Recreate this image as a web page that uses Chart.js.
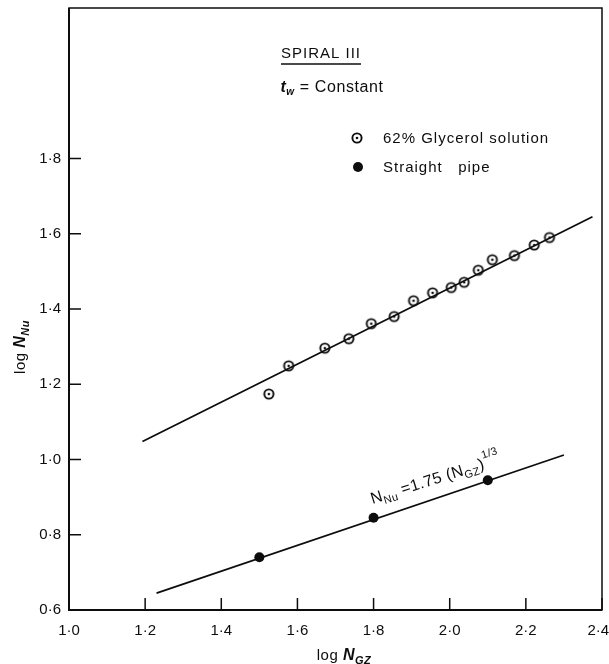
<!DOCTYPE html>
<html lang="en">
<head>
<meta charset="UTF-8">
<title>Spiral III</title>
<script src="https://cdn.jsdelivr.net/npm/chart.js"></script>
<style>
  html, body { margin: 0; padding: 0; background: #fff; }
  #wrap { width: 609px; height: 664px; }
</style>
</head>
<body>
<div id="wrap"><canvas id="chart"></canvas></div>
<script>
// values (log N_Gz, log N_Nu)
const glycerolX = [1.525, 1.577, 1.672, 1.735, 1.794, 1.854, 1.905, 1.955, 2.004, 2.038, 2.075, 2.112, 2.170, 2.222, 2.262];
const glycerolY = [1.174, 1.249, 1.296, 1.321, 1.361, 1.380, 1.422, 1.443, 1.457, 1.471, 1.503, 1.531, 1.542, 1.570, 1.590];
const pipeX = [1.50, 1.80, 2.10];
const pipeY = [0.740, 0.845, 0.945];
// drawn lines, end points
const spiralFitX = [1.193, 2.375];
const spiralFitY = [1.048, 1.645];
const pipeFitX = [1.23, 2.30];
const pipeFitY = [0.645, 1.012];
const xTicks = [1.0, 1.2, 1.4, 1.6, 1.8, 2.0, 2.2, 2.4];
const yTicks = [0.6, 0.8, 1.0, 1.2, 1.4, 1.6, 1.8];

const INK = '#0d0d0d';
const FONT = '"Liberation Sans", Arial, sans-serif';

const pts = (xs, ys) => xs.map((x, i) => ({ x: x, y: ys[i] }));
const fmt = v => v.toFixed(1).replace('.', '\u00b7');

// open circle with centre dot
function ringDot() {
  const c = document.createElement('canvas');
  c.width = c.height = 14;
  const g = c.getContext('2d');
  g.lineWidth = 1.9;
  g.strokeStyle = INK;
  g.fillStyle = '#fff';
  g.beginPath(); g.arc(7, 7, 4.6, 0, Math.PI * 2); g.fill(); g.stroke();
  g.fillStyle = INK;
  g.beginPath(); g.arc(7, 7, 1.3, 0, Math.PI * 2); g.fill();
  return c;
}
const ring = ringDot();

// draw a run of text pieces [text, size, dy, style]
function rich(ctx, parts, x, y, align) {
  let w = 0;
  parts.forEach(p => {
    ctx.font = (p[3] || '') + ' ' + p[1] + 'px ' + FONT;
    w += ctx.measureText(p[0]).width;
  });
  let cx = align === 'center' ? x - w / 2 : x;
  parts.forEach(p => {
    ctx.font = (p[3] || '') + ' ' + p[1] + 'px ' + FONT;
    ctx.fillText(p[0], cx, y + (p[2] || 0));
    cx += ctx.measureText(p[0]).width;
  });
  return w;
}

const decor = {
  id: 'decor',
  afterDraw(chart) {
    const ctx = chart.ctx;
    const a = chart.chartArea;
    const sx = chart.scales.x, sy = chart.scales.y;
    ctx.save();
    ctx.strokeStyle = INK;
    ctx.fillStyle = INK;

    // frame
    ctx.lineWidth = 1.5;
    ctx.strokeRect(a.left, a.top, a.right - a.left, a.bottom - a.top);
    ctx.lineWidth = 2;
    ctx.beginPath();
    ctx.moveTo(a.left, a.top); ctx.lineTo(a.left, a.bottom); ctx.lineTo(a.right, a.bottom);
    ctx.stroke();

    // inward ticks
    ctx.lineWidth = 1.5;
    ctx.beginPath();
    sx.ticks.forEach(t => {
      const px = sx.getPixelForValue(t.value);
      ctx.moveTo(px, a.bottom); ctx.lineTo(px, a.bottom - 12);
    });
    sy.ticks.forEach(t => {
      const py = sy.getPixelForValue(t.value);
      ctx.moveTo(a.left, py); ctx.lineTo(a.left + 12, py);
    });
    ctx.stroke();

    ctx.textBaseline = 'alphabetic';
    ctx.textAlign = 'left';

    // heading
    ctx.letterSpacing = '1px';
    const hw = rich(ctx, [['SPIRAL III', 15]], 321, 58, 'center');
    ctx.lineWidth = 1.4;
    ctx.beginPath(); ctx.moveTo(321 - hw / 2, 64); ctx.lineTo(321 + hw / 2, 64); ctx.stroke();
    ctx.letterSpacing = '0.6px';
    rich(ctx, [['t', 16, 0, 'italic bold'], ['w', 10, 3, 'italic bold'], [' = Constant', 16]], 332, 92, 'center');

    // legend
    ctx.drawImage(ring, 357 - 7, 138 - 7);
    ctx.beginPath(); ctx.arc(358, 167, 5, 0, Math.PI * 2); ctx.fill();
    ctx.letterSpacing = '1px';
    rich(ctx, [['62% Glycerol solution', 15]], 383, 143);
    rich(ctx, [['Straight   pipe', 15]], 383, 172);
    ctx.letterSpacing = '0px';

    // equation along the lower line
    ctx.save();
    ctx.translate(sx.getPixelForValue(1.797), sy.getPixelForValue(0.882));
    ctx.rotate(-17.5 * Math.PI / 180);
    ctx.letterSpacing = '0.4px';
    rich(ctx, [['N', 16], ['Nu', 11, 4], [' =1.75 (', 16], ['N', 16], ['GZ', 11, 4], [')', 16], ['1/3', 11, -10]], 0, 0);
    ctx.restore();

    // axis titles
    ctx.letterSpacing = '0.5px';
    rich(ctx, [['log ', 15], ['N', 16, 0, 'italic bold'], ['GZ', 11, 4, 'italic bold']], 344, 660, 'center');
    ctx.save();
    ctx.translate(25, 347);
    ctx.rotate(-Math.PI / 2);
    rich(ctx, [['log ', 15], ['N', 16, 0, 'italic bold'], ['Nu', 11, 4, 'italic bold']], 0, 0, 'center');
    ctx.restore();

    ctx.restore();
  }
};

new Chart(document.getElementById('chart'), {
  type: 'scatter',
  data: {
    datasets: [
      { data: pts(spiralFitX, spiralFitY), showLine: true, borderColor: INK, borderWidth: 1.8, pointRadius: 0 },
      { data: pts(pipeFitX, pipeFitY), showLine: true, borderColor: INK, borderWidth: 1.8, pointRadius: 0 },
      { data: pts(glycerolX, glycerolY), pointStyle: ring, pointRadius: 5 },
      { data: pts(pipeX, pipeY), pointStyle: 'circle', pointRadius: 5, backgroundColor: INK, borderColor: INK, borderWidth: 0 }
    ]
  },
  options: {
    responsive: true,
    maintainAspectRatio: false,
    animation: false,
    layout: { padding: { top: 8, right: 7, left: 0, bottom: 0 } },
    plugins: { legend: { display: false }, tooltip: { enabled: false } },
    scales: {
      x: {
        type: 'linear', min: 1.0, max: 2.4,
        afterBuildTicks: s => { s.ticks = xTicks.map(v => ({ value: v })); },
        afterFit: s => { s.height = 54; s.paddingLeft = 0; s.paddingRight = 0; },
        grid: { display: false, drawTicks: false },
        border: { display: false },
        ticks: {
          color: INK, padding: 12, font: { family: FONT, size: 15 },
          // last label pulled a little left so it stays on the page
          callback: v => v >= 2.4 ? fmt(v) + '\u2002' : fmt(v)
        }
      },
      y: {
        type: 'linear', min: 0.6, max: 2.2,
        afterBuildTicks: s => { s.ticks = yTicks.map(v => ({ value: v })); },
        afterFit: s => { s.width = 69; s.paddingTop = 0; s.paddingBottom = 0; },
        grid: { display: false, drawTicks: false },
        border: { display: false },
        ticks: { color: INK, padding: 8, font: { family: FONT, size: 15 }, callback: v => fmt(v) }
      }
    }
  },
  plugins: [decor]
});
</script>
</body>
</html>
